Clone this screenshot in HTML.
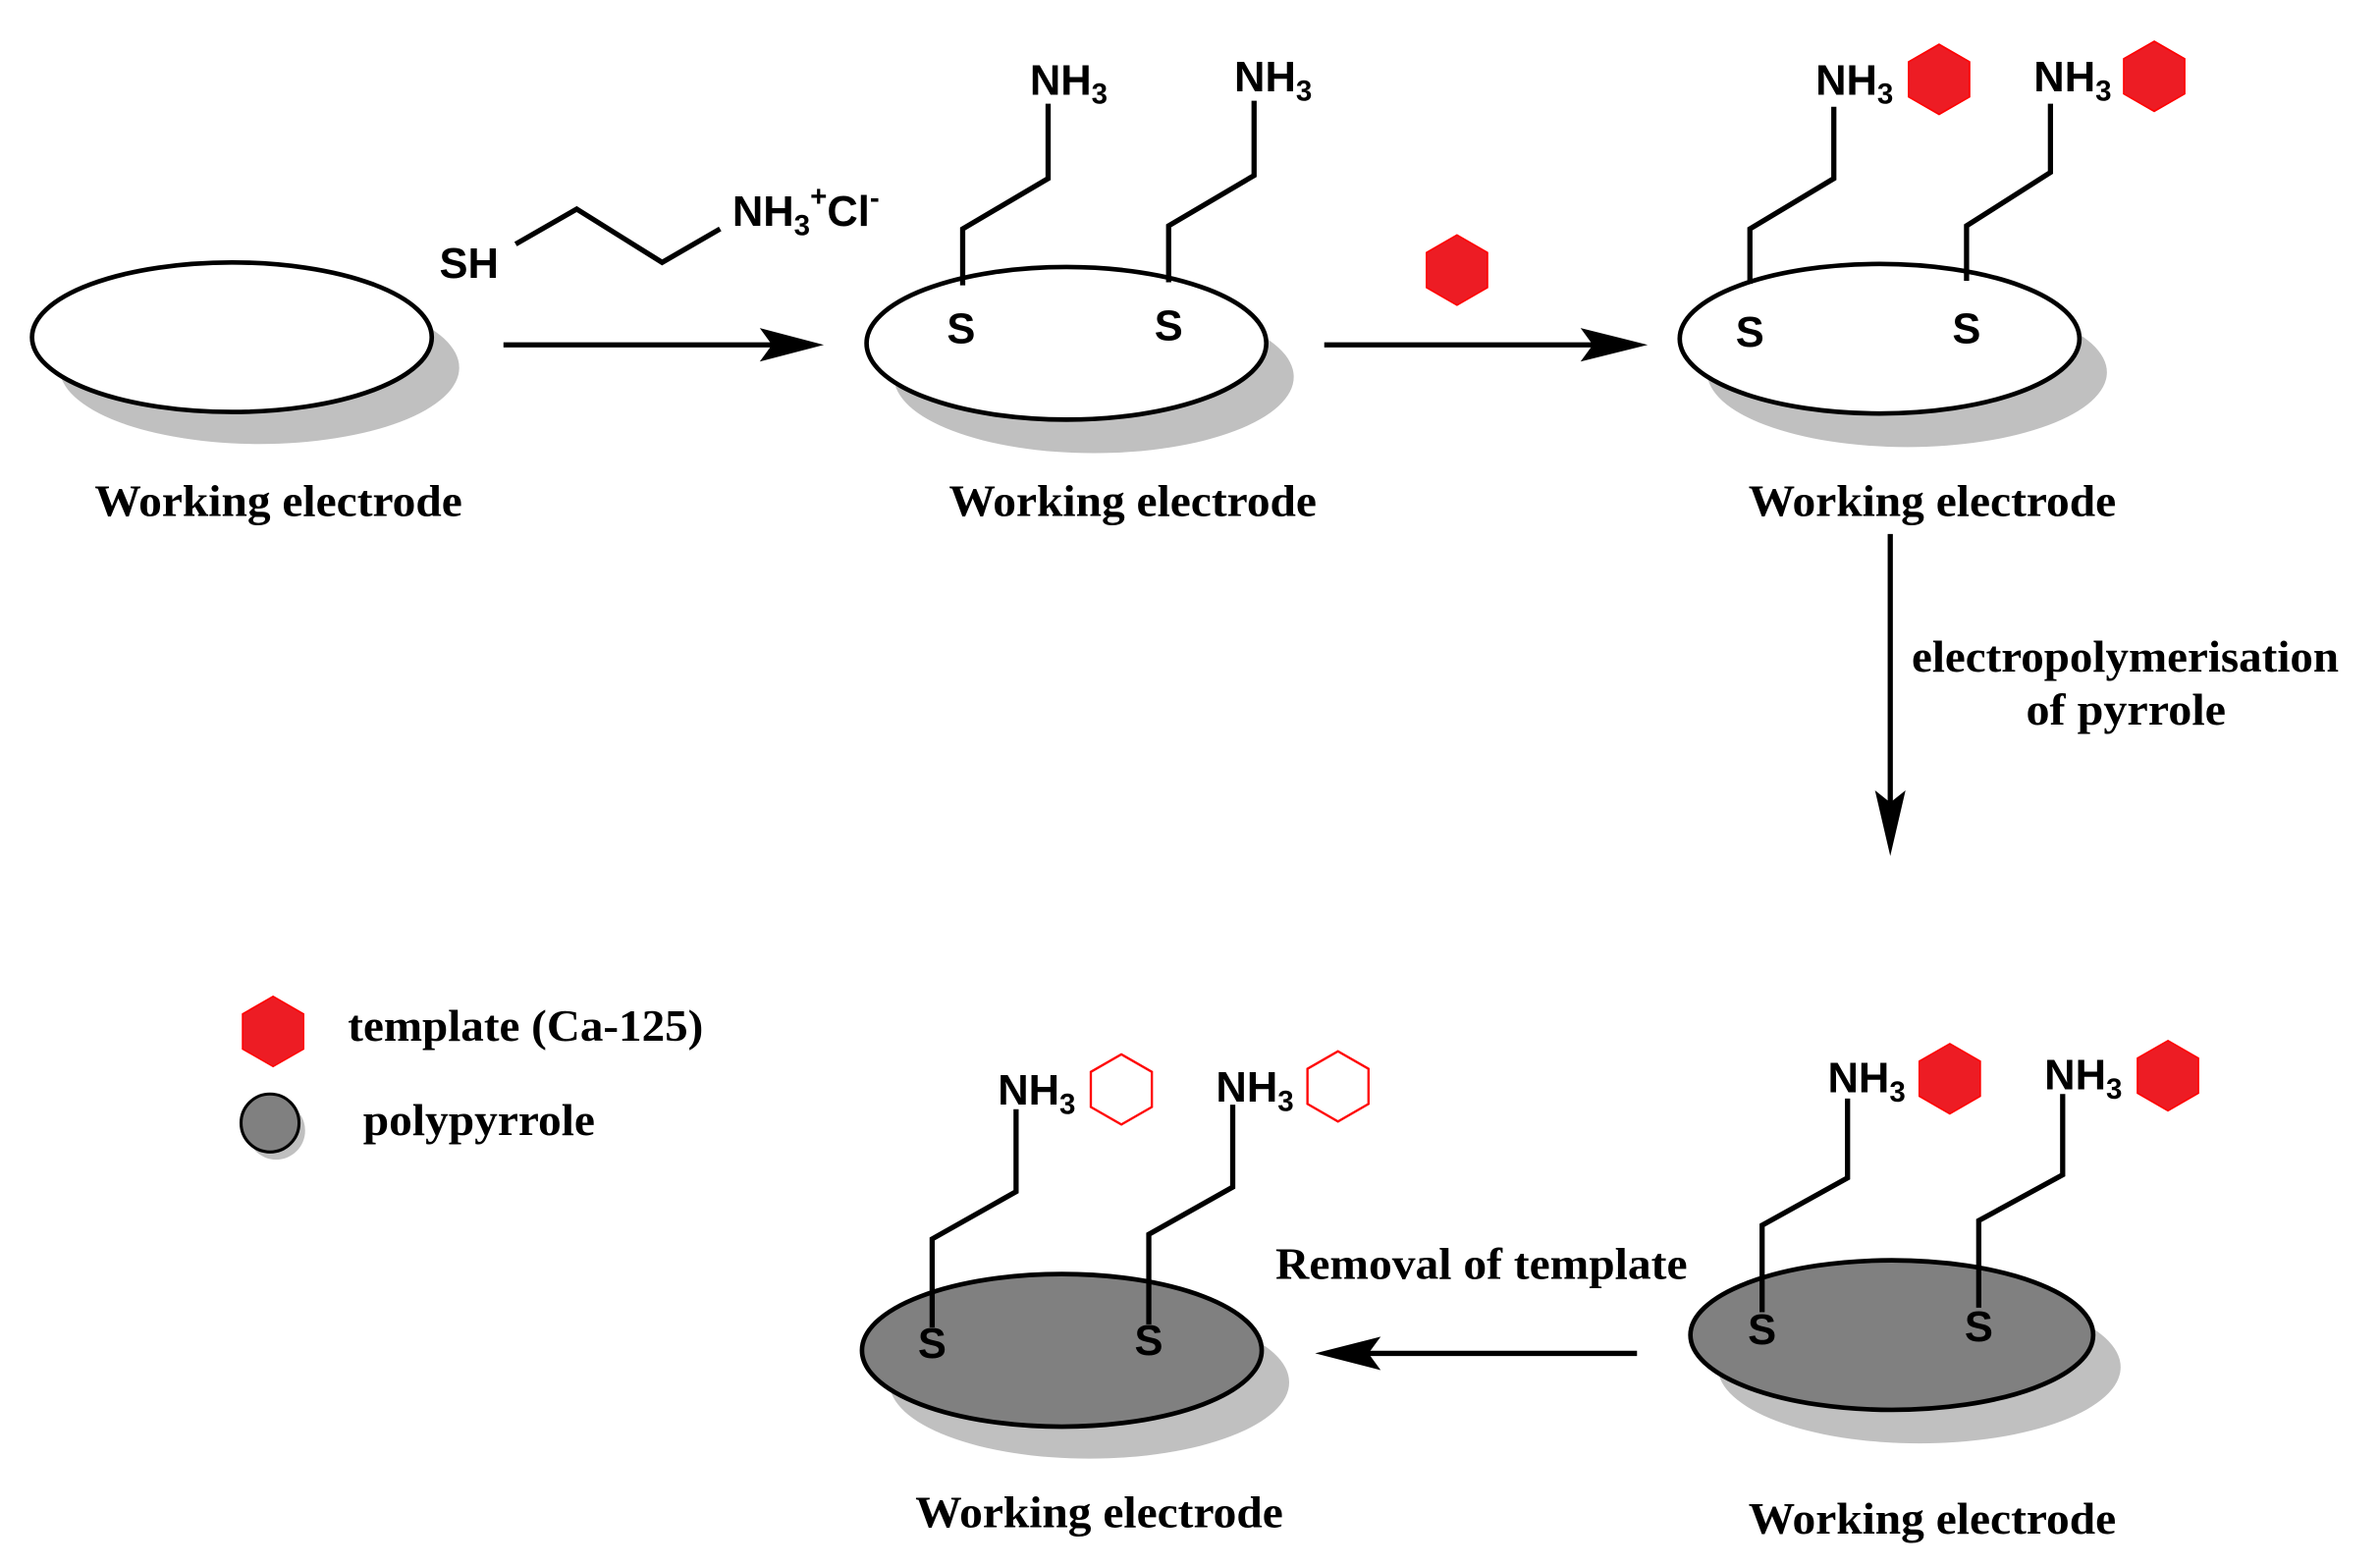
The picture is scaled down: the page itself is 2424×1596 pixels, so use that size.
<!DOCTYPE html>
<html><head><meta charset="utf-8"><style>
html,body{margin:0;padding:0;background:#fff;}
svg{display:block;}
.c{font-family:"Liberation Sans",sans-serif;font-weight:bold;font-size:28px;fill:#000;}
.l{font-family:"Liberation Serif",serif;font-weight:bold;font-size:29px;fill:#000;}
.ln{stroke:#000;stroke-width:3.4;fill:none;}
</style></head><body>
<svg width="2424" height="1596" viewBox="0 0 1560 1027" preserveAspectRatio="none" xmlns="http://www.w3.org/2000/svg">
<defs>
<polygon id="hx" points="0,-23 20,-11.5 20,11.5 0,23 -20,11.5 -20,-11.5"/>
</defs>
<!-- Electrode 1 -->
<ellipse cx="170" cy="241" rx="131" ry="50" fill="#c0c0c0"/>
<ellipse cx="152" cy="221" rx="131" ry="49" fill="#fff" stroke="#000" stroke-width="3"/>
<text class="l" x="62" y="338" textLength="241" lengthAdjust="spacingAndGlyphs">Working electrode</text>
<!-- reagent -->
<text class="c" x="288" y="182">SH</text>
<polyline class="ln" points="338,160 378,137 434,172 472,150"/>
<text class="c" x="480" y="148">NH<tspan font-size="19" dy="6">3</tspan><tspan font-size="19" dy="-19">+</tspan><tspan dy="13">Cl</tspan><tspan font-size="19" dy="-12">-</tspan></text>
<!-- arrow 1 -->
<line class="ln" x1="330" y1="226" x2="510" y2="226"/>
<polygon points="540,226 498,215 506,226 498,237" fill="#000"/>
<!-- Electrode 2 -->
<ellipse cx="717" cy="247" rx="131" ry="50" fill="#c0c0c0"/>
<ellipse cx="699" cy="225" rx="131" ry="50" fill="#fff" stroke="#000" stroke-width="3"/>
<polyline class="ln" points="631,187 631,150 687,117 687,68"/>
<polyline class="ln" points="766,185 766,148 822,115 822,66"/>
<text class="c" x="630" y="225" text-anchor="middle">S</text>
<text class="c" x="766" y="223" text-anchor="middle">S</text>
<text class="c" x="675" y="62">NH<tspan font-size="19" dy="6">3</tspan></text>
<text class="c" x="809" y="60">NH<tspan font-size="19" dy="6">3</tspan></text>
<text class="l" x="622" y="338" textLength="241" lengthAdjust="spacingAndGlyphs">Working electrode</text>
<!-- arrow 2 -->
<line class="ln" x1="868" y1="226" x2="1050" y2="226"/>
<polygon points="1080,226 1036,215 1044,226 1036,237" fill="#000"/>
<use href="#hx" x="955" y="177" fill="#ed1c24" stroke="#f00" stroke-width="1"/>
<!-- Electrode 3 -->
<ellipse cx="1250" cy="244" rx="131" ry="49" fill="#c0c0c0"/>
<ellipse cx="1232" cy="222" rx="131" ry="49" fill="#fff" stroke="#000" stroke-width="3"/>
<polyline class="ln" points="1147,186 1147,150 1202,117 1202,70"/>
<polyline class="ln" points="1289,184 1289,148 1344,113 1344,68"/>
<text class="c" x="1147" y="227" text-anchor="middle">S</text>
<text class="c" x="1289" y="225" text-anchor="middle">S</text>
<text class="c" x="1190" y="62">NH<tspan font-size="19" dy="6">3</tspan></text>
<text class="c" x="1333" y="60">NH<tspan font-size="19" dy="6">3</tspan></text>
<use href="#hx" x="1271" y="52" fill="#ed1c24" stroke="#f00" stroke-width="1"/>
<use href="#hx" x="1412" y="50" fill="#ed1c24" stroke="#f00" stroke-width="1"/>
<text class="l" x="1146" y="338" textLength="241" lengthAdjust="spacingAndGlyphs">Working electrode</text>
<!-- vertical arrow -->
<line class="ln" x1="1239" y1="350" x2="1239" y2="530"/>
<polygon points="1239,561 1229,518 1239,526 1249,518" fill="#000"/>
<text class="l" x="1253" y="440" textLength="280" lengthAdjust="spacingAndGlyphs">electropolymerisation</text>
<text class="l" x="1328" y="475" textLength="131" lengthAdjust="spacingAndGlyphs">of pyrrole</text>
<!-- legend -->
<use href="#hx" x="179" y="676" fill="#ed1c24" stroke="#f00" stroke-width="1"/>
<text class="l" x="228" y="682" textLength="233" lengthAdjust="spacingAndGlyphs">template (Ca-125)</text>
<circle cx="181" cy="741" r="19" fill="#c0c0c0"/>
<circle cx="177" cy="736" r="19" fill="#808080" stroke="#000" stroke-width="2"/>
<text class="l" x="238" y="744" textLength="152" lengthAdjust="spacingAndGlyphs">polypyrrole</text>
<!-- Electrode bottom right -->
<ellipse cx="1258" cy="896" rx="132" ry="50" fill="#c0c0c0"/>
<ellipse cx="1240" cy="875" rx="132" ry="49" fill="#808080" stroke="#000" stroke-width="3"/>
<polyline class="ln" points="1155,860 1155,803 1211,772 1211,720"/>
<polyline class="ln" points="1297,857 1297,800 1352,770 1352,717"/>
<text class="c" x="1155" y="881" text-anchor="middle">S</text>
<text class="c" x="1297" y="879" text-anchor="middle">S</text>
<text class="c" x="1198" y="716">NH<tspan font-size="19" dy="6">3</tspan></text>
<text class="c" x="1340" y="714">NH<tspan font-size="19" dy="6">3</tspan></text>
<use href="#hx" x="1278" y="707" fill="#ed1c24" stroke="#f00" stroke-width="1"/>
<use href="#hx" x="1421" y="705" fill="#ed1c24" stroke="#f00" stroke-width="1"/>
<text class="l" x="1146" y="1005" textLength="241" lengthAdjust="spacingAndGlyphs">Working electrode</text>
<!-- arrow left -->
<line class="ln" x1="1073" y1="887" x2="892" y2="887"/>
<polygon points="862,887 905,876 897,887 905,898" fill="#000"/>
<text class="l" x="836" y="838" textLength="270" lengthAdjust="spacingAndGlyphs">Removal of template</text>
<!-- Electrode bottom left -->
<ellipse cx="714" cy="906" rx="131" ry="50" fill="#c0c0c0"/>
<ellipse cx="696" cy="885" rx="131" ry="50" fill="#808080" stroke="#000" stroke-width="3"/>
<polyline class="ln" points="611,870 611,812 666,781 666,727"/>
<polyline class="ln" points="753,868 753,809 808,778 808,724"/>
<text class="c" x="611" y="890" text-anchor="middle">S</text>
<text class="c" x="753" y="888" text-anchor="middle">S</text>
<text class="c" x="654" y="724">NH<tspan font-size="19" dy="6">3</tspan></text>
<text class="c" x="797" y="722">NH<tspan font-size="19" dy="6">3</tspan></text>
<use href="#hx" x="735" y="714" fill="#fff" stroke="#f00" stroke-width="1.5"/>
<use href="#hx" x="877" y="712" fill="#fff" stroke="#f00" stroke-width="1.5"/>
<text class="l" x="600" y="1001" textLength="241" lengthAdjust="spacingAndGlyphs">Working electrode</text>
</svg>
</body></html>
